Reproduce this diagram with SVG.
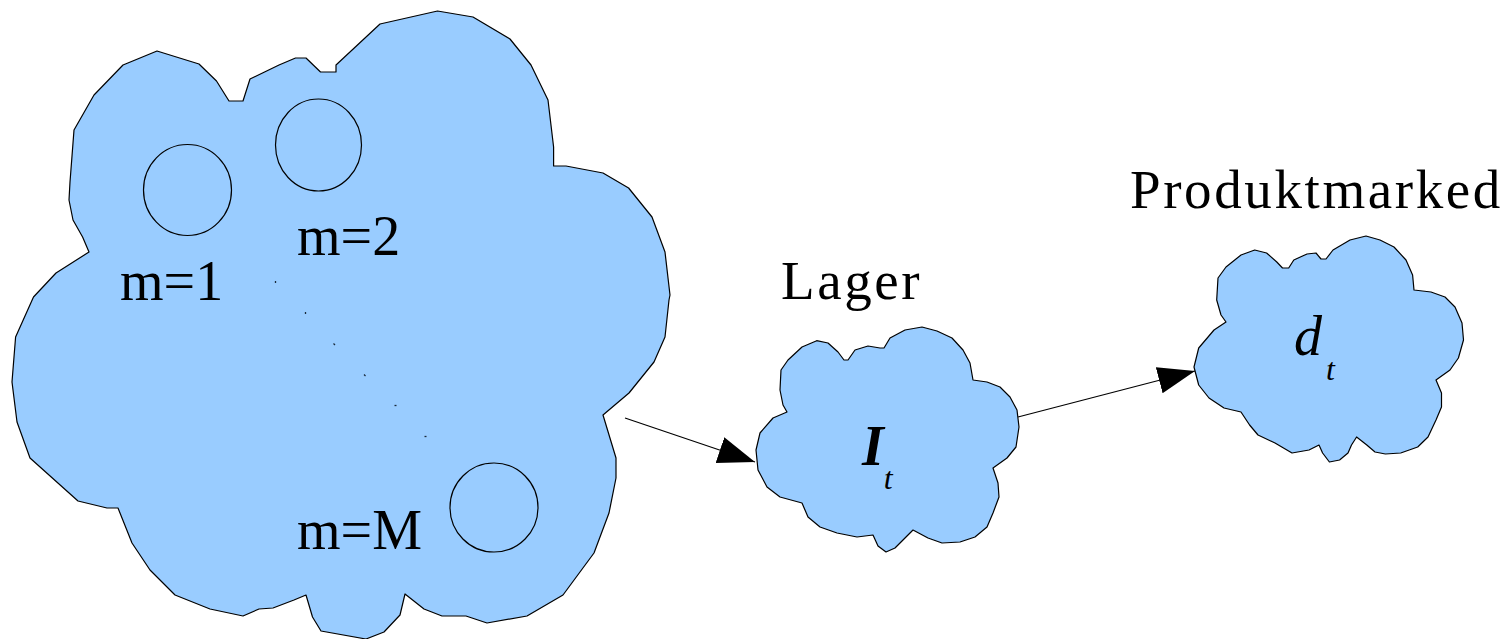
<svg xmlns="http://www.w3.org/2000/svg" width="1506" height="639" viewBox="0 0 1506 639">
<style>
.cloud{fill:#99ccff;stroke:#000;stroke-width:1.2;stroke-linejoin:round}
.ring{fill:none;stroke:#000;stroke-width:1.2}
.lbl{fill:#000}
.conn{stroke:#000;stroke-width:1.2;fill:none}
.dot{stroke:#1a2a3a;stroke-width:1.3}
</style>
<defs>
<marker id="ah" markerWidth="38" markerHeight="28" refX="37" refY="13.5" orient="auto" markerUnits="userSpaceOnUse">
<path d="M0,0 L37,13.5 L0,27 Z" fill="#000"/>
</marker>
</defs>
<rect width="1506" height="639" fill="#fff"/>
<g id="produktion" font-family="'Liberation Serif', 'DejaVu Serif', serif">
<path class="cloud" d="M437.5,11 L473,17 L510,39 L531,65 L548,100 L553.6,147 L553.6,166 L566,166 L603,173 L628.6,188 L652,217 L665,252 L670,295 L669,300 L665,337 L654,362 L629,393 L603,415 L616,458 L616,478 L609,513 L594,553 L563,595 L527,616 L487,623 L466,616 L442,616 L424,609 L405,594 L400,615 L384,632 L366,639 L321,631 L312.5,617 L306,595 L294,600 L273,608 L259,609 L243,616 L210,609 L175,595 L150,570 L132,543 L118,508 L107,508 L78,501 L30,458 L17,422 L12,382 L15.6,337 L33.5,297 L56,273 L89,252 L82.6,237 L73,220 L69,200 L70,182 L74,130 L94,95 L123,65 L157,51 L199,64 L216.5,81 L229,101 L243,101 L250,79 L279,65 L295.5,58 L306,58 L320.5,72 L336,72 L336,65 L380,24 Z"/>
<ellipse class="ring" cx="187.5" cy="190" rx="44" ry="45.5"/>
<ellipse class="ring" cx="318.5" cy="145" rx="43" ry="46"/>
<ellipse class="ring" cx="494" cy="507.5" rx="44" ry="44.5"/>
<text class="lbl" x="120" y="300" font-size="56">m=1</text>
<text class="lbl" x="297" y="255" font-size="56">m=2</text>
<text class="lbl" x="297" y="549" font-size="56">m=M</text>
<line class="dot" x1="275.5" y1="281" x2="275.5" y2="283"/>
<line class="dot" x1="305.5" y1="312" x2="305.5" y2="314"/>
<line class="dot" x1="333.5" y1="343.5" x2="335" y2="345"/>
<line class="dot" x1="364" y1="374.5" x2="365.5" y2="376"/>
<line class="dot" x1="394.5" y1="405.5" x2="396.5" y2="405.5"/>
<line class="dot" x1="424.5" y1="436.5" x2="426.5" y2="436.5"/>
</g>
<g id="lager" font-family="'Liberation Serif', 'DejaVu Serif', serif">
<text class="lbl" x="781" y="299" font-size="55" letter-spacing="2.6">Lager</text>
<path class="cloud" d="M816.7,340.7 L828,343 L838,352 L844,360 L848,360 L855,350 L868,346 L880,348 L884,348 L890,338 L905,330 L922,327 L937,331 L952,338 L963,350 L970,363 L973,380 L987,382 L1000,387 L1010,397 L1017,410 L1019,427 L1016,447 L1007,458 L993,468 L998,483 L999,497 L993,513 L987,527 L975,537 L960,542 L942,543 L928,538 L913,530 L903,540 L895,548 L886,552 L878,546 L873,535 L857,537 L837,533 L820,527 L808,517 L802,503 L780,497 L767,487 L758,470 L756,450 L760,433 L773,418 L787,412 L783,405 L780,390 L781,370 L788,360 L802,347 Z"/>
<text class="lbl" x="862" y="465" font-size="56" font-style="italic"><tspan font-weight="bold">I</tspan><tspan font-size="32" dy="24">t</tspan></text>
</g>
<g id="produktmarked" font-family="'Liberation Serif', 'DejaVu Serif', serif">
<text class="lbl" x="1130" y="208" font-size="55" letter-spacing="2.6">Produktmarked</text>
<path class="cloud" d="M1254.7,250 L1266.6,253 L1276.8,262 L1282.5,268 L1288.7,268 L1293.8,260 L1307,254 L1316,253 L1321,259 L1326,259 L1333,250 L1350,240 L1366,236 L1380,240 L1394,247 L1406,260 L1412.6,275 L1414,290 L1431,292 L1445,297 L1455,307 L1462,323 L1463.5,340 L1458.4,358 L1450,370 L1436,380 L1441.5,393 L1441.5,407 L1436,420 L1428,437 L1417.7,447 L1400.7,453 L1385.4,454 L1375,452 L1366.8,445 L1356.6,437 L1351.5,445 L1348,453 L1339.6,460 L1329.4,462 L1322.6,453 L1319,445 L1309,450 L1292,453 L1275,443 L1258,435 L1249.6,425 L1241,412 L1224,408 L1209,398 L1198.7,385 L1194,367 L1198.7,348 L1214,330 L1226,322 L1221,315 L1216.7,300 L1218,278 L1226,267 L1241,255 Z"/>
<text class="lbl" x="1294" y="355" font-size="56" font-style="italic">d<tspan font-size="32" dx="4" dy="25">t</tspan></text>
</g>
<g id="connectors">
<line class="conn" x1="625" y1="418" x2="755" y2="462" marker-end="url(#ah)"/>
<line class="conn" x1="1018" y1="417" x2="1195" y2="371" marker-end="url(#ah)"/>
</g>
</svg>
